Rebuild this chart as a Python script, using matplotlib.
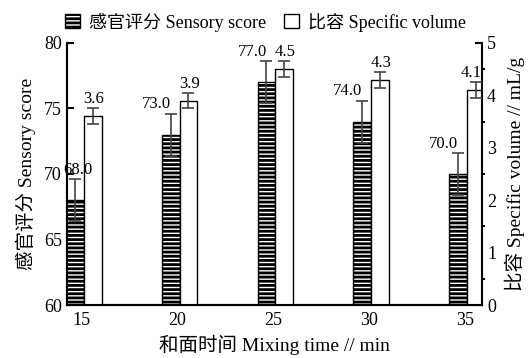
import matplotlib.pyplot as plt
import numpy as np

plt.rcParams['font.family'] = ['Liberation Serif', 'Noto Sans CJK SC']
plt.rcParams['hatch.linewidth'] = 2.0

# 和面时间
times = [15, 20, 25, 30, 35]
sensory = [68.0, 73.0, 77.0, 74.0, 70.0]
sensory_err = [1.6, 1.6, 1.6, 1.6, 1.6]
volume = [3.6, 3.9, 4.5, 4.3, 4.1]
volume_err = [0.15, 0.15, 0.15, 0.15, 0.15]

fig = plt.figure(figsize=(5.31, 3.58), dpi=100)
ax = fig.add_axes([0.126, 0.148, 0.782, 0.732])
ax2 = ax.twinx()

x = np.array(times)
w = 0.93
xmin, xmax = 14.22, 35.89

b1 = ax.bar(x - 0.83, sensory, width=w, align='edge', bottom=0,
            color='white', edgecolor='black', hatch='----', linewidth=1.0,
            label='感官评分 Sensory score', zorder=2)
ax.errorbar(x - 0.83 + w / 2, sensory, yerr=sensory_err, fmt='none',
            ecolor='#444444', elinewidth=1.2, capsize=4, capthick=1.2, zorder=3)

b2 = ax2.bar(x + 0.1, volume, width=w, align='edge',
             color='white', edgecolor='black', linewidth=1.0,
             label='比容 Specific volume', zorder=2)
ax2.errorbar(x + 0.1 + w / 2, volume, yerr=volume_err, fmt='none',
             ecolor='#444444', elinewidth=1.2, capsize=4, capthick=1.2, zorder=3)

# 数值标注 (画在ax2上，避免被比容柱子挡住)
for xi, v, e in zip(x, sensory, sensory_err):
    tx = max(xi - 0.83 + w / 2 - 0.75, xmin + 0.55)
    ax2.text(tx, v + e + 0.1, '%.1f' % v, ha='center', va='bottom',
             fontsize=12, transform=ax.transData, zorder=5)
for xi, v, e in zip(x, volume, volume_err):
    tx = min(xi + 0.1 + w / 2 + 0.05, xmax - 0.55)
    ax2.text(tx, v + e + 0.02, '%.1f' % v, ha='center', va='bottom',
             fontsize=12, zorder=5)

ax.set_xlim(xmin, xmax)
ax.set_ylim(60, 80)
ax2.set_ylim(0, 5)
ax.set_xticks(times)
ax.set_yticks([60, 65, 70, 75, 80])
ax2.set_yticks([0, 1, 2, 3, 4, 5])
ax2.set_yticks(np.arange(0.5, 5, 1.0), minor=True)

for a in (ax, ax2):
    a.spines['top'].set_visible(False)
    a.spines['left'].set_linewidth(1.5)
    a.spines['right'].set_linewidth(1.5)
    a.spines['bottom'].set_linewidth(1.5)
ax.spines['right'].set_visible(False)

ax.tick_params(axis='y', direction='in', length=5, width=1.5, labelsize=13)
ax.tick_params(axis='x', length=0, labelsize=13, pad=5)
ax2.tick_params(axis='y', which='major', direction='in', length=5, width=1.5, labelsize=13)
ax2.tick_params(axis='y', which='minor', direction='out', length=2, width=1.5)

ax.set_ylabel('感官评分 Sensory score', fontsize=14, labelpad=6)
ax2.set_ylabel('比容 Specific volume // mL/g', fontsize=14, labelpad=6)
ax.set_xlabel('和面时间 Mixing time // min', fontsize=14, labelpad=4)

fig.legend(handles=[b1, b2], loc='upper center', bbox_to_anchor=(0.5, 1.01),
           ncol=2, frameon=False, fontsize=13, handlelength=0.8,
           handleheight=0.8, columnspacing=1.0, handletextpad=0.5)

fig.savefig('out.png', dpi=100)
